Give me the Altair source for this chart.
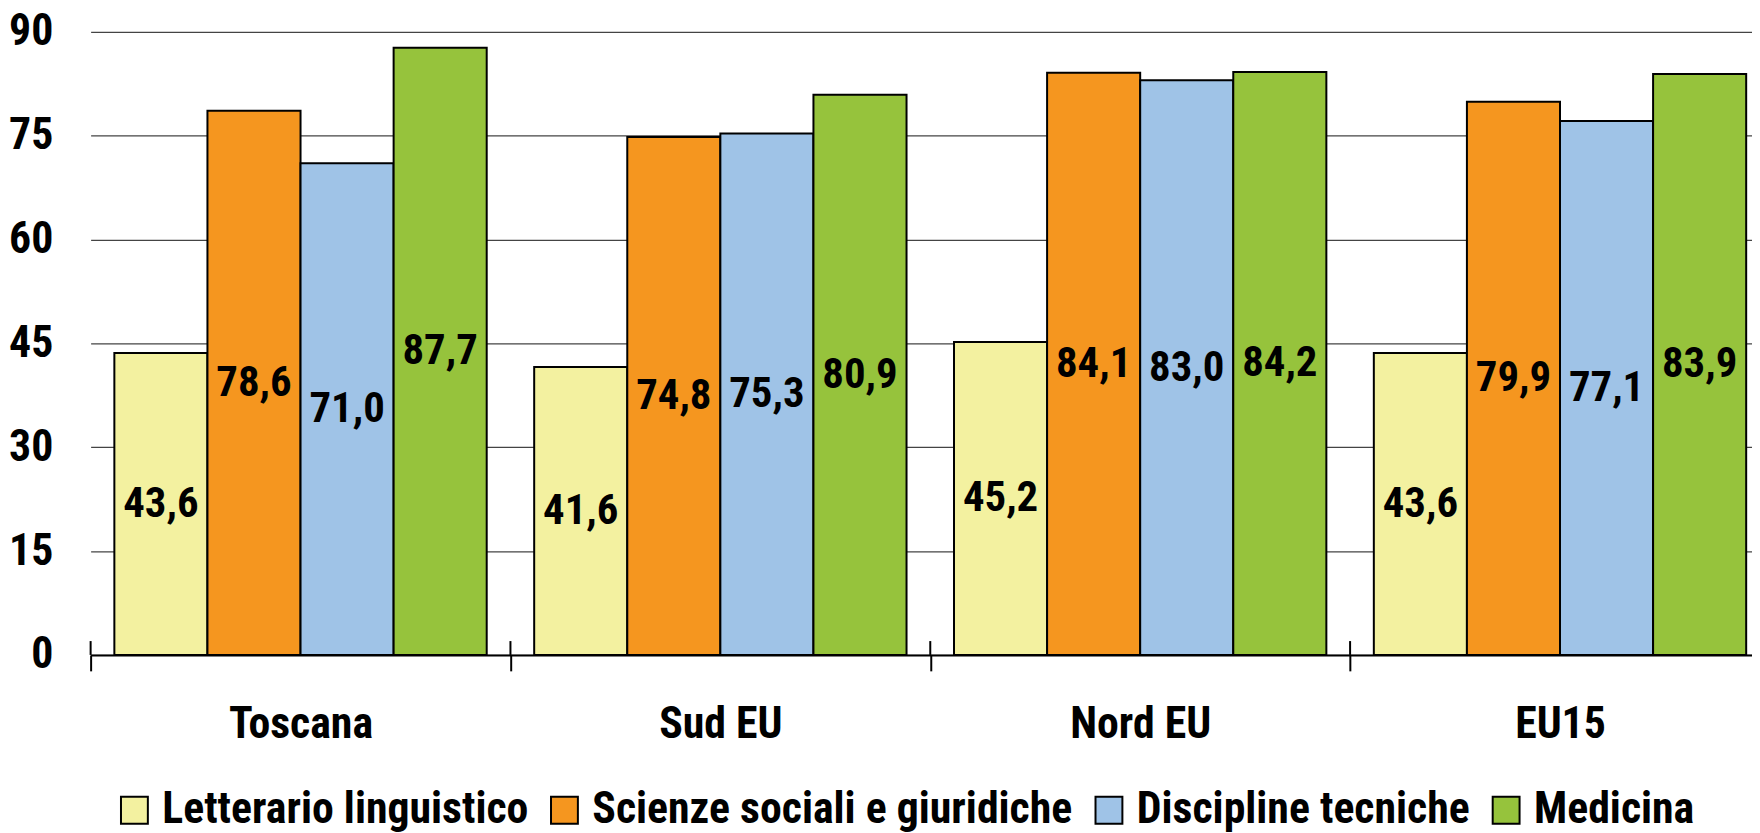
import altair as alt
import pandas as pd

categories = ["Toscana", "Sud EU", "Nord EU", "EU15"]
series = ["Letterario linguistico", "Scienze sociali e giuridiche",
          "Discipline tecniche", "Medicina"]
letterario = [43.6, 41.6, 45.2, 43.6]
scienze = [78.6, 74.8, 84.1, 79.9]
tecniche = [71.0, 75.3, 83.0, 77.1]
medicina = [87.7, 80.9, 84.2, 83.9]
colors = ["#F3F1A0", "#F5961F", "#9FC3E7", "#96C33C"]
y_ticks = [0, 15, 30, 45, 60, 75, 90]

rows = []
for s, vals in zip(series, [letterario, scienze, tecniche, medicina]):
    for c, v in zip(categories, vals):
        rows.append({"cat": c, "serie": s, "v": v})
df = pd.DataFrame(rows)
cat_df = pd.DataFrame({"cat": categories})

FONT = "Liberation Sans Narrow, Roboto Condensed, Noto Sans Condensed, Arial Narrow, Liberation Sans, sans-serif"
FS = 44
FS_LAB = 43

x_scale = alt.Scale(range=[0, 1687], paddingInner=0, paddingOuter=0)
y_scale = alt.Scale(domain=[0, 90], nice=False)
xoff = alt.XOffset("serie:N", sort=series,
                   scale=alt.Scale(paddingOuter=0.255, paddingInner=0))

x_axis = alt.Axis(title=None, labelAngle=0, tickBand="extent",
                  domainColor="black", domainWidth=2,
                  tickColor="black", tickWidth=2, tickSize=16,
                  labelFont=FONT, labelFontSize=FS, labelFontWeight="bold",
                  labelColor="black", labelPadding=32, grid=False,
                  labelOverlap=False)
y_axis = alt.Axis(title=None, values=y_ticks, grid=True, gridColor="#444",
                  gridWidth=1.2, domain=False, ticks=False,
                  labelFont=FONT, labelFontSize=FS, labelFontWeight="bold",
                  labelColor="black", labelPadding=38)

bars = alt.Chart(df).mark_bar(stroke="black", strokeWidth=2).encode(
    x=alt.X("cat:N", sort=categories, scale=x_scale, axis=x_axis),
    xOffset=xoff,
    y=alt.Y("v:Q", scale=y_scale, axis=y_axis),
    color=alt.Color("serie:N", sort=series,
                    scale=alt.Scale(domain=series, range=colors),
                    legend=alt.Legend(title=None, orient="none", legendX=22, legendY=760,
                                      direction="horizontal", symbolType="square",
                                      symbolSize=729, symbolStrokeColor="black",
                                      symbolStrokeWidth=2, symbolOpacity=1,
                                      labelFont=FONT, labelFontSize=FS,
                                      labelFontWeight="bold", labelColor="black",
                                      labelLimit=1000, labelOffset=6,
                                      columnPadding=14, padding=0)),
)

labels = alt.Chart(df).transform_calculate(
    mid="datum.v / 2",
    lab="replace(format(datum.v, '.1f'), '.', ',')",
).mark_text(font=FONT, fontSize=FS_LAB, fontWeight="bold", color="black",
            baseline="middle", align="center").encode(
    x=alt.X("cat:N", sort=categories, scale=x_scale, axis=x_axis),
    xOffset=xoff,
    y=alt.Y("mid:Q", scale=y_scale, axis=y_axis),
    text="lab:N",
)

upticks = alt.Chart(cat_df).mark_rule(color="black", strokeWidth=2).encode(
    x=alt.X("cat:N", sort=categories, scale=x_scale, bandPosition=0, axis=x_axis),
    y=alt.datum(0, axis=y_axis, scale=y_scale),
    y2=alt.datum(2.0),
)

chart = alt.layer(bars, labels, upticks).properties(
    width=1669, height=626,
    autosize=alt.AutoSizeParams(type="none"),
    padding={"left": 83, "top": 22, "right": 0, "bottom": 177},
).configure_view(stroke=None)

chart.save("out.html", embed_options={"renderer": "svg", "actions": False})
